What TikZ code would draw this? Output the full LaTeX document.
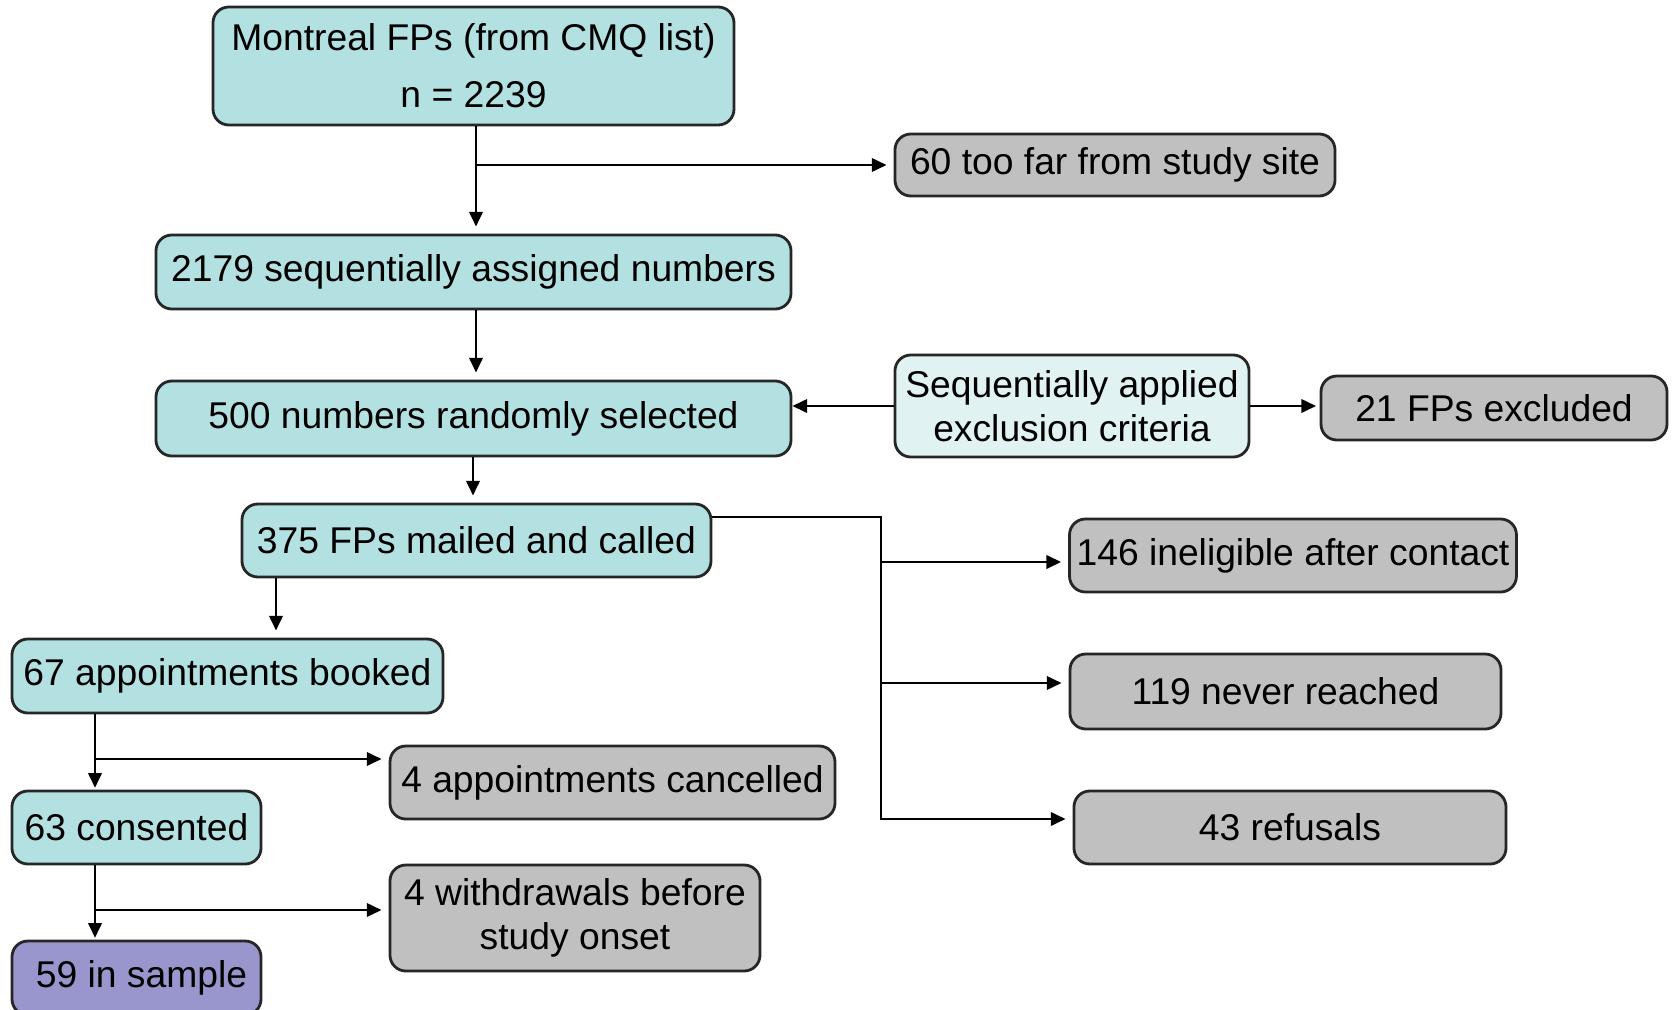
\documentclass[tikz,border=0pt]{standalone}
\usepackage{fontspec}
\setmainfont{Liberation Sans}
\usetikzlibrary{arrows.meta}
\definecolor{boxcyan}{RGB}{179,224,224}
\definecolor{boxpale}{RGB}{225,242,242}
\definecolor{boxgray}{RGB}{192,192,192}
\definecolor{boxpurple}{RGB}{152,150,204}

\begin{document}
\begin{tikzpicture}[
  font=\fontsize{10.6}{12.7}\selectfont,
  box/.style={draw=black!85, line width=0.8pt, rounded corners=4.5pt, align=center, inner sep=2pt},
  stage/.style={box, fill=boxcyan},
  drop/.style={box, fill=boxgray},
  arr/.style={line width=0.75pt, -{Triangle[length=4.2pt,width=3.8pt]}, shorten >=2pt}
]
\useasboundingbox (0,0) rectangle (16.73,-10.10);
\clip (0,0) rectangle (16.73,-10.10);

\node[stage, minimum width=5.21cm, minimum height=1.18cm] (list) at (4.735,-0.66) {Montreal FPs (from CMQ list)\\[3.5pt]n = 2239};
\node[drop, minimum width=4.40cm, minimum height=0.62cm] (far) at (11.15,-1.65) {60 too far from study site};
\node[stage, minimum width=6.35cm, minimum height=0.74cm] (numbers) at (4.735,-2.72) {2179 sequentially assigned numbers};
\node[stage, minimum width=6.35cm, minimum height=0.75cm] (random) at (4.735,-4.185) {500 numbers randomly selected};
\node[box, fill=boxpale, minimum width=3.54cm, minimum height=1.02cm] (criteria) at (10.72,-4.06) {Sequentially applied\\exclusion criteria};
\node[drop, minimum width=3.46cm, minimum height=0.64cm] (excluded) at (14.94,-4.08) {21 FPs excluded};
\node[stage, minimum width=4.69cm, minimum height=0.73cm] (mailed) at (4.765,-5.405) {375 FPs mailed and called};
\node[drop, minimum width=4.46cm, minimum height=0.73cm] (inelig) at (12.93,-5.555) {146 ineligible after contact};
\node[drop, minimum width=4.31cm, minimum height=0.75cm] (never) at (12.855,-6.915) {119 never reached};
\node[drop, minimum width=4.32cm, minimum height=0.73cm] (refusal) at (12.90,-8.275) {43 refusals};
\node[stage, minimum width=4.31cm, minimum height=0.74cm] (booked) at (2.275,-6.76) {67 appointments booked};
\node[drop, minimum width=4.45cm, minimum height=0.73cm] (cancel) at (6.125,-7.825) {4 appointments cancelled};
\node[stage, minimum width=2.49cm, minimum height=0.73cm] (consent) at (1.365,-8.275) {63 consented};
\node[drop, minimum width=3.70cm, minimum height=1.06cm] (withdraw) at (5.75,-9.18) {4 withdrawals before\\study onset};
\node[box, fill=boxpurple, minimum width=2.49cm, minimum height=0.74cm] (sample) at (1.365,-9.78) {\hspace{0.1cm}59 in sample};

\coordinate (topfork) at (4.76,-1.66);
\coordinate (trunk) at (8.81,-5.17);
\coordinate (mailstem) at (2.76,-6);
\coordinate (fork1) at (0.95,-7.59);
\coordinate (fork2) at (0.95,-9.10);
\coordinate (ineligin) at ([yshift=-0.065cm]inelig.west);
\coordinate (neverin) at ([yshift=0.085cm]never.west);
\coordinate (refusalin) at ([yshift=0.085cm]refusal.west);

\draw[arr] (list.south -| topfork) -- (numbers.north -| topfork);
\draw[arr] (topfork) -- (topfork |- far.west) -- (far.west);
\draw[arr] (numbers.south -| topfork) -- (random.north -| topfork);
\draw[arr, shorten >=0pt] (criteria.west) -- (criteria.west -| random.east);
\draw[arr, shorten >=1pt] (criteria.east) -- (criteria.east -| excluded.west);
\draw[arr] (random.south -| 4.73,0) -- (mailed.north -| 4.73,0);
\draw[arr] (trunk -| mailed.east) -- (trunk) |- (refusalin);
\draw[arr] (trunk |- ineligin) -- (ineligin);
\draw[arr] (trunk |- neverin) -- (neverin);
\draw[arr] (mailed.south -| mailstem) -- (booked.north -| mailstem);
\draw[arr, shorten >=0.5pt] (booked.south -| fork1) -- (consent.north -| fork1);
\draw[arr] (fork1) -- (fork1 -| cancel.west);
\draw[arr, shorten >=0.5pt] (consent.south -| fork2) -- (sample.north -| fork2);
\draw[arr] (fork2) -- (fork2 -| withdraw.west);
\end{tikzpicture}
\end{document}
